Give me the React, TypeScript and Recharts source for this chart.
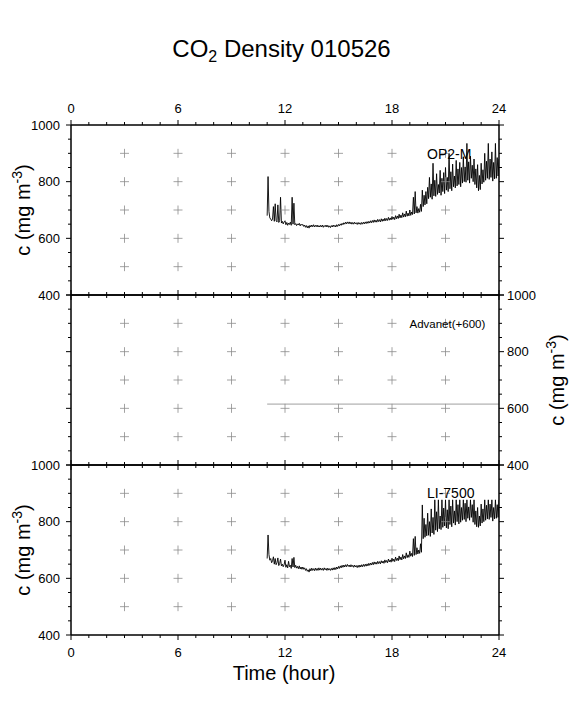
import React from 'react';
import { ComposedChart, Line, Scatter, XAxis, YAxis } from 'recharts';

const W = 569;
const H = 708;
const FONT = '"Liberation Sans", Arial, Helvetica, sans-serif';

// plot frame (pixels)
const LEFT = 71;
const RIGHT = 70;

// axes
const hourTicks = [0, 1, 2, 3, 4, 5, 6, 7, 8, 9, 10, 11, 12, 13, 14, 15, 16, 17, 18, 19, 20, 21, 22, 23, 24];
const concTicks = [400, 450, 500, 550, 600, 650, 700, 750, 800, 850, 900, 950, 1000];

// grey "+" marks
const gridHours = [3, 6, 9, 12, 15, 18, 21];
const gridLevels = [500, 600, 700, 800, 900];

// samples every 0.05 h from 11.00 h to 24.00 h (one row per hour)
const START_HOUR = 11;
const STEP = 0.05;

const op2m = [
  680, 818, 695, 672, 668, 662, 668, 712, 660, 722, 663, 658, 718, 656, 662, 745, 654, 660, 651, 658,
  662, 648, 656, 646, 654, 649, 657, 646, 745, 650, 724, 648, 652, 645, 651, 647, 653, 644, 650, 646,
  649, 642, 647, 639, 645, 637, 644, 636, 646, 640, 647, 641, 648, 640, 646, 641, 647, 640, 645, 640,
  646, 640, 647, 639, 645, 641, 647, 640, 646, 639, 644, 638, 645, 640, 647, 641, 646, 640, 648, 642,
  649, 644, 651, 646, 653, 648, 655, 650, 657, 651, 658, 652, 658, 651, 657, 650, 656, 650, 657, 651,
  655, 649, 656, 650, 655, 649, 656, 650, 657, 651, 658, 652, 659, 653, 660, 654, 662, 655, 663, 656,
  665, 657, 664, 657, 667, 659, 666, 658, 669, 660, 668, 661, 671, 662, 670, 663, 674, 664, 672, 665,
  677, 667, 675, 666, 680, 669, 679, 670, 685, 672, 682, 673, 690, 675, 686, 676, 696, 678, 689, 679,
  700, 681, 693, 684, 745, 686, 765, 690, 712, 689, 705, 692, 720, 695, 770, 712, 752, 718, 765, 722,
  780, 740, 815, 745, 792, 738, 865, 750, 805, 748, 828, 755, 790, 760, 840, 752, 812, 765, 832, 758,
  850, 770, 815, 765, 900, 775, 835, 768, 862, 782, 820, 778, 875, 785, 845, 790, 868, 782, 850, 795,
  888, 800, 852, 798, 935, 805, 870, 795, 890, 812, 858, 800, 880, 790, 845, 778, 860, 768, 822, 772,
  865, 792, 842, 798, 900, 805, 872, 812, 935, 808, 880, 815, 905, 802, 868, 810, 935, 812, 885, 820,
  880,
];

const li7500 = [
  670, 753, 684, 664, 670, 655, 662, 676, 650, 670, 648, 655, 672, 645, 652, 668, 644, 650, 641, 648,
  664, 639, 648, 637, 660, 641, 646, 635, 670, 640, 674, 638, 646, 636, 642, 634, 644, 633, 640, 632,
  640, 632, 637, 628, 634, 625, 630, 622, 634, 626, 636, 628, 634, 627, 636, 628, 635, 628, 637, 629,
  636, 629, 635, 628, 637, 630, 635, 628, 636, 629, 634, 628, 635, 629, 637, 630, 638, 631, 640, 633,
  642, 635, 644, 637, 646, 639, 647, 640, 648, 641, 649, 642, 647, 640, 648, 641, 646, 639, 647, 640,
  645, 638, 646, 639, 647, 640, 648, 641, 649, 642, 650, 643, 651, 644, 653, 646, 654, 647, 656, 648,
  658, 650, 657, 650, 660, 652, 659, 651, 662, 654, 661, 653, 665, 656, 663, 655, 668, 658, 665, 657,
  671, 660, 668, 659, 675, 663, 671, 662, 679, 666, 675, 665, 684, 669, 679, 670, 690, 673, 683, 674,
  696, 678, 688, 677, 740, 681, 748, 684, 708, 686, 700, 688, 722, 692, 859, 740, 812, 745, 790, 750,
  830, 752, 800, 748, 845, 760, 815, 755, 877, 770, 835, 765, 877, 775, 820, 772, 877, 780, 848, 785,
  877, 778, 842, 775, 877, 790, 855, 782, 877, 795, 838, 788, 877, 800, 860, 792, 877, 798, 850, 805,
  877, 808, 865, 800, 877, 812, 852, 805, 877, 815, 860, 798, 877, 790, 838, 782, 850, 780, 820, 785,
  862, 795, 845, 800, 877, 805, 858, 810, 877, 808, 862, 815, 877, 802, 850, 810, 877, 812, 860, 815,
  877,
];

const advanetHours = [11, 24];
const advanet = [615, 615];

const op2mData = op2m.map((v, i) => ({ hour: START_HOUR + i * STEP, value: v }));
const liData = li7500.map((v, i) => ({ hour: START_HOUR + i * STEP, value: v }));
const advData = advanetHours.map((h, i) => ({ hour: h, value: advanet[i] }));
const crosses = gridHours.flatMap((h) => gridLevels.map((l) => ({ hour: h, level: l })));

const renderCross = (p: any) => (
  <path
    d={`M${p.cx - 4.5},${p.cy}h9M${p.cx},${p.cy - 4.5}v9`}
    stroke="#8c8c8c"
    strokeWidth={0.8}
    fill="none"
  />
);

const xTick = (side: 'top' | 'bottom', labels: boolean) => (props: any) => {
  const { x, y, payload } = props;
  const v = payload.value;
  const major = v % 6 === 0;
  const dir = side === 'top' ? -1 : 1;
  return (
    <g>
      <line x1={x} x2={x} y1={y} y2={y + dir * (major ? 5 : 3)} stroke="#000" strokeWidth={1} />
      {labels && major && (
        <text
          x={x}
          y={side === 'top' ? y - 12.5 : y + 21.5}
          textAnchor="middle"
          fontSize={13}
          fontFamily={FONT}
          fill="#000"
        >
          {v}
        </text>
      )}
    </g>
  );
};

const yTick = (side: 'left' | 'right', labels: boolean) => (props: any) => {
  const { x, y, payload } = props;
  const v = payload.value;
  const major = v % 200 === 0;
  const dir = side === 'left' ? -1 : 1;
  return (
    <g>
      <line x1={x} x2={x + dir * (major ? 5 : 3)} y1={y} y2={y} stroke="#000" strokeWidth={1} />
      {labels && major && (
        <text
          x={side === 'left' ? x - 11 : x + 8}
          y={y}
          dy="0.36em"
          textAnchor={side === 'left' ? 'end' : 'start'}
          fontSize={13}
          fontFamily={FONT}
          fill="#000"
        >
          {v}
        </text>
      )}
    </g>
  );
};

type PanelProps = {
  top: number;
  bottom: number;
  data: { hour: number; value: number }[];
  stroke: string;
  strokeWidth: number;
  topLabels?: boolean;
  bottomLabels?: boolean;
  leftLabels?: boolean;
  rightLabels?: boolean;
};

const axisLine = { stroke: '#000', strokeWidth: 1.5 };

// every axis is 1px thick so the margins put the frame exactly at top/bottom/LEFT/RIGHT
const Panel = ({ top, bottom, data, stroke, strokeWidth, topLabels, bottomLabels, leftLabels, rightLabels }: PanelProps) => (
  <div style={{ position: 'absolute', left: 0, top: 0 }}>
    <ComposedChart
      width={W}
      height={H}
      margin={{ top: top - 1, bottom: H - bottom - 1, left: LEFT - 1, right: RIGHT - 1 }}
    >
      <XAxis
        xAxisId="b"
        orientation="bottom"
        type="number"
        dataKey="hour"
        domain={[0, 24]}
        allowDataOverflow
        ticks={hourTicks}
        interval={0}
        height={1}
        tickSize={0}
        tickMargin={0}
        tickLine={false}
        axisLine={axisLine}
        tick={xTick('bottom', !!bottomLabels)}
      />
      <XAxis
        xAxisId="t"
        orientation="top"
        type="number"
        dataKey="hour"
        domain={[0, 24]}
        allowDataOverflow
        ticks={hourTicks}
        interval={0}
        height={1}
        tickSize={0}
        tickMargin={0}
        tickLine={false}
        axisLine={axisLine}
        tick={xTick('top', !!topLabels)}
      />
      <YAxis
        yAxisId="l"
        orientation="left"
        type="number"
        domain={[400, 1000]}
        allowDataOverflow
        ticks={concTicks}
        interval={0}
        width={1}
        tickSize={0}
        tickMargin={0}
        tickLine={false}
        axisLine={axisLine}
        tick={yTick('left', !!leftLabels)}
      />
      <YAxis
        yAxisId="r"
        orientation="right"
        type="number"
        domain={[400, 1000]}
        allowDataOverflow
        ticks={concTicks}
        interval={0}
        width={1}
        tickSize={0}
        tickMargin={0}
        tickLine={false}
        axisLine={axisLine}
        tick={yTick('right', !!rightLabels)}
      />
      <Scatter
        xAxisId="b"
        yAxisId="l"
        data={crosses}
        dataKey="level"
        shape={renderCross}
        isAnimationActive={false}
      />
      <Line
        xAxisId="b"
        yAxisId="l"
        data={data}
        dataKey="value"
        type="linear"
        stroke={stroke}
        strokeWidth={strokeWidth}
        dot={false}
        activeDot={false}
        isAnimationActive={false}
      />
    </ComposedChart>
  </div>
);

const yTitle = (x: number, y: number) => (
  <text transform={`rotate(-90 ${x} ${y})`} x={x} y={y} textAnchor="middle" fontSize={20} fontFamily={FONT} fill="#000">
    c (mg m<tspan fontSize={14} dy={-8}>-3</tspan>
    <tspan dy={8}>)</tspan>
  </text>
);

export default function App() {
  return (
    <div style={{ position: 'absolute', left: 0, top: 0, width: W, height: H, background: '#fff' }}>
      <Panel top={125} bottom={295} data={op2mData} stroke="#000" strokeWidth={0.9} topLabels leftLabels />
      <Panel top={295} bottom={465} data={advData} stroke="#888" strokeWidth={0.8} rightLabels />
      <Panel top={465} bottom={635} data={liData} stroke="#000" strokeWidth={0.9} bottomLabels leftLabels />
      <svg width={W} height={H} style={{ position: 'absolute', left: 0, top: 0, pointerEvents: 'none' }}>
        <text x={281.5} y={57} textAnchor="middle" fontSize={24} fontFamily={FONT} fill="#000">
          CO<tspan fontSize={16} dy={5}>2</tspan>
          <tspan dy={-5}> Density 010526</tspan>
        </text>
        {yTitle(30, 210)}
        {yTitle(564, 380)}
        {yTitle(30, 550)}
        <text x={284} y={680} textAnchor="middle" fontSize={20} fontFamily={FONT} fill="#000">
          Time (hour)
        </text>
        <text x={427} y={159} fontSize={14} fontFamily={FONT} fill="#000">OP2-M</text>
        <text x={409.5} y={328} fontSize={11.5} fontFamily={FONT} fill="#000">Advanet(+600)</text>
        <text x={427} y={498} fontSize={14} fontFamily={FONT} fill="#000">LI-7500</text>
      </svg>
    </div>
  );
}
